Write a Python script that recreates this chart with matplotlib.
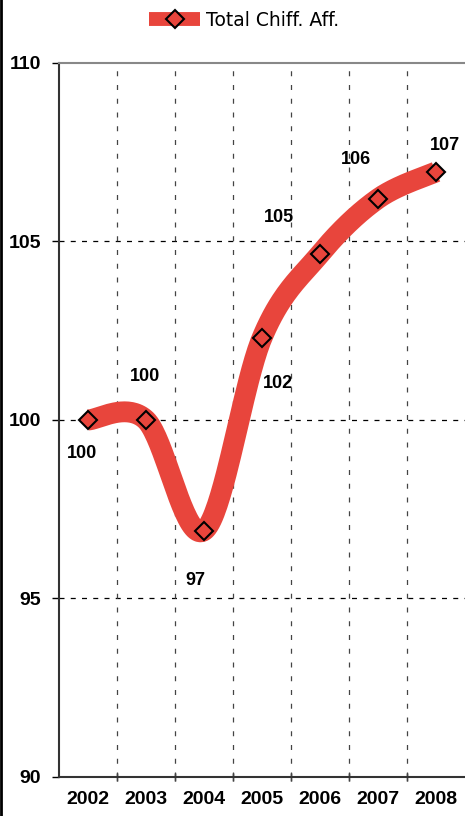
import numpy as np
import matplotlib
matplotlib.use("Agg")
import matplotlib.pyplot as plt
from matplotlib.lines import Line2D

years = ["2002", "2003", "2004", "2005", "2006", "2007", "2008"]
values = [100.0, 100.0, 96.9, 102.3, 104.65, 106.2, 106.95]
labels = ["100", "100", "97", "102", "105", "106", "107"]
series_name = "Total Chiff. Aff."
yticks = [90, 95, 100, 105, 110]

RED = "#E8453C"

plt.rcParams['font.family'] = ['Liberation Sans', 'DejaVu Sans']

fig = plt.figure(figsize=(4.65, 8.16), dpi=100)
ax = fig.add_axes([59/465, 39/816, 1 - 59/465, (777-63)/816])

x = np.arange(len(years), dtype=float)
y = np.array(values)

# Catmull-Rom style smoothing (Excel-like Bezier)
pts = np.column_stack([x, y])
curve = []
n = len(pts)
for i in range(n - 1):
    p0 = pts[i - 1] if i > 0 else pts[i]
    p1 = pts[i]
    p2 = pts[i + 1]
    p3 = pts[i + 2] if i + 2 < n else pts[i + 1]
    c1 = p1 + (p2 - p0) / 6.0
    c2 = p2 - (p3 - p1) / 6.0
    t = np.linspace(0, 1, 40)[:, None]
    b = ((1 - t) ** 3) * p1 + 3 * ((1 - t) ** 2) * t * c1 + 3 * (1 - t) * t ** 2 * c2 + t ** 3 * p2
    curve.append(b if i == 0 else b[1:])
curve = np.vstack(curve)

ax.plot(curve[:, 0], curve[:, 1], color=RED, lw=15, solid_capstyle='butt', zorder=3)
ax.plot(x, y, linestyle='none', marker='D', markersize=9, markerfacecolor=RED,
        markeredgecolor='black', markeredgewidth=1.5, zorder=4)

offsets = [(-4.5, -24), (-0.5, 31.5), (-6.5, -36), (11.5, -33), (-29.5, 26.5), (-16, 28), (6.5, 19)]
for xi, yi, lab, off in zip(x, y, labels, offsets):
    ax.annotate(lab, (xi, yi), xytext=off, textcoords='offset points',
                ha='center', va='center', fontsize=13, fontweight='bold', zorder=5)

ax.set_xlim(-0.5, len(years) - 0.5)
ax.set_ylim(90, 110)
ax.set_yticks(yticks)
ax.set_yticklabels([str(v) for v in yticks], fontsize=14, fontweight='bold')
ax.set_xticks(x)
ax.set_xticklabels(years, fontsize=14, fontweight='bold')
ax.tick_params(axis='x', length=0, pad=10)
ax.tick_params(axis='y', length=5, width=1, direction='out', pad=8)

for v in yticks[1:-1]:
    ax.axhline(v, color='black', lw=0.9, ls=(0, (4, 5)), zorder=1)
for b in np.arange(0.5, len(years) - 0.5, 1.0):
    ax.axvline(b, color='#444444', lw=0.9, ls=(0, (4, 7)), zorder=1)
    ax.plot([b, b], [90, 90], marker='|', color='#444444', ms=6, clip_on=False)

ax.spines['right'].set_visible(False)
ax.spines['top'].set_color('#888888')
ax.spines['top'].set_linewidth(1.5)
ax.spines['left'].set_color('#333333')
ax.spines['left'].set_linewidth(1.5)
ax.spines['bottom'].set_color('#333333')
ax.spines['bottom'].set_linewidth(1.5)

# left border of chart frame
fig.add_artist(Line2D([0.002, 0.002], [0, 1], transform=fig.transFigure, color='black', lw=2))

handle = Line2D([], [], color=RED, lw=10, marker='D', markersize=9, solid_capstyle='butt',
                markerfacecolor=RED, markeredgecolor='black', markeredgewidth=1.5)
fig.legend([handle], [series_name], loc='center', bbox_to_anchor=(244/465, 1 - 20/816),
           frameon=False, handlelength=2.75, handletextpad=0.3,
           prop={'family': ['Lucida Grande', 'DejaVu Sans'], 'size': 13.5})

fig.savefig("out.png", dpi=100)
